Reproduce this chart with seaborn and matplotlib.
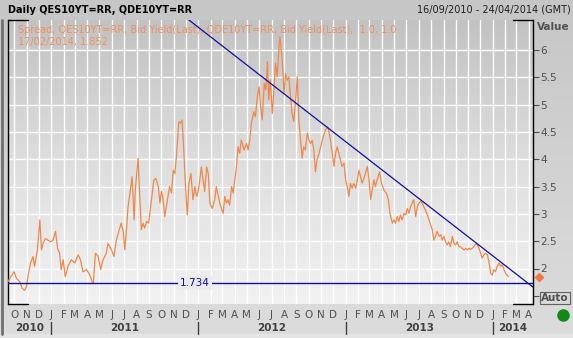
import numpy as np
import pandas as pd
import matplotlib
matplotlib.use("Agg")
import matplotlib.pyplot as plt
import matplotlib.dates as mdates
from matplotlib.colors import LinearSegmentedColormap
from matplotlib.transforms import blended_transform_factory
import seaborn as sns

# ---------------- data ----------------
start_date = "2010-09-16"
view_end = "2014-04-11"
day_offsets = [
    0, 7, 15, 21, 29, 35, 41, 46, 50, 56, 62, 66, 73, 79, 83, 87, 93, 99, 106, 112, 118, 123, 128, 132, 137, 142,
    149, 157, 166, 174, 180, 186, 195, 203, 209, 212, 217, 224, 230, 236, 244, 248, 257, 263, 269, 275, 281, 286,
    290, 294, 298, 305, 308, 313, 316, 323, 327, 331, 335, 339, 344, 349, 354, 358, 362, 367, 373, 377, 381, 385,
    389, 393, 397, 401, 406, 410, 414, 418, 424, 429, 432, 435, 439, 443, 445, 449, 454, 459, 464, 468, 472, 476,
    480, 484, 488, 493, 497, 501, 507, 513, 517, 522, 527, 534, 538, 542, 546, 550, 555, 559, 563, 567, 571, 575,
    579, 586, 592, 596, 600, 604, 610, 614, 619, 623, 627, 631, 636, 640, 644, 647,
    651, 656, 660, 664, 668, 672, 675, 679, 682, 685, 689, 693, 697, 701, 705, 709, 714, 718, 722, 726, 730, 734,
    738, 743, 747, 751, 755, 759, 763, 767, 772, 780, 788, 794, 799, 805, 809, 813, 817, 821, 825, 829, 834, 838,
    842, 846, 850, 854, 858, 863, 867, 871, 875, 879, 883, 887, 892, 896, 900, 904, 908, 912, 916, 922, 927, 933,
    939, 944, 948, 954, 958, 962, 966, 970, 974, 978, 983, 987, 991, 995, 999, 1003, 1007, 1012, 1016, 1020, 1024,
    1028, 1032, 1036, 1041, 1045, 1049, 1053, 1057, 1061, 1065, 1070, 1074, 1078, 1082, 1086, 1090, 1094, 1098,
    1103, 1107, 1111, 1115, 1119, 1123, 1127, 1132, 1136, 1140, 1144, 1148, 1152, 1156, 1161, 1165, 1169, 1173,
    1177, 1181, 1185, 1190, 1194, 1198, 1202, 1206, 1210, 1214, 1219, 1223, 1227, 1231, 1235, 1239, 1242,
]
spread = [
    1.76, 1.85, 1.94, 1.82, 1.76, 1.64, 1.60, 1.67, 1.88, 2.10, 2.22, 2.04, 2.34, 2.89, 2.34, 2.46, 2.55, 2.52, 2.49,
    2.52, 2.68, 2.37, 2.28, 1.98, 2.16, 1.85, 2.04, 2.16, 2.10, 2.25, 2.16, 1.94, 1.98, 1.88, 1.76, 1.74, 2.28, 2.22,
    1.98, 2.16, 2.28, 2.46, 2.34, 2.22, 2.52, 2.68, 2.83, 2.68, 2.34, 2.71, 3.13, 3.50, 3.68, 2.89, 3.44, 4.02, 3.32,
    2.71, 2.83, 2.74, 2.86, 2.83, 3.13, 3.38, 3.62, 3.65, 3.50, 3.20, 3.41, 3.26, 2.95, 3.13, 3.32, 3.50, 3.38, 3.80,
    3.74, 4.05, 4.69, 4.66, 4.72, 4.35, 3.74, 3.20, 2.98, 3.56, 3.74, 3.26, 3.50, 3.32, 3.41, 3.62, 3.86, 3.62, 3.41,
    3.86, 3.74, 3.20, 3.10, 3.26, 3.50, 3.32, 3.16, 3.01, 3.32, 3.20, 3.26, 3.16, 3.50, 3.38, 3.62, 3.86, 4.23, 4.11,
    4.35, 4.17, 4.29, 4.17, 4.35, 4.66, 4.87, 4.78, 5.15, 5.33, 4.96, 4.72, 5.39, 5.27, 5.79, 5.09,
    5.45, 4.84, 5.27, 5.76, 5.51, 6.00, 6.24, 5.94, 5.63, 5.21, 5.57, 5.45, 5.51, 5.15, 4.84, 4.69, 5.09, 5.51, 4.72,
    4.35, 4.02, 4.23, 4.17, 4.48, 4.35, 4.29, 4.35, 4.17, 3.77, 3.99, 4.11, 4.35, 4.54, 4.59, 4.41, 4.11, 3.87, 4.11,
    4.23, 4.11, 3.99, 3.87, 3.93, 3.62, 3.50, 3.32, 3.56, 3.47, 3.56, 3.47, 3.62, 3.80, 3.68, 3.56, 3.65, 3.74, 3.87,
    3.62, 3.26, 3.44, 3.62, 3.50, 3.62, 3.77, 3.56, 3.44, 3.38, 3.26, 3.01, 2.83, 2.89, 2.83, 2.95, 2.86, 2.98, 2.89,
    3.01, 2.98, 3.10, 3.01, 3.13, 3.20, 3.26, 2.95, 3.13, 3.20, 3.23, 3.20, 3.13, 3.07, 2.98, 2.89, 2.80, 2.71, 2.52,
    2.59, 2.68, 2.59, 2.62, 2.52, 2.59, 2.49, 2.43, 2.49, 2.40, 2.59, 2.46, 2.43, 2.49, 2.40, 2.40, 2.37, 2.34, 2.37,
    2.34, 2.37, 2.35, 2.37, 2.40, 2.45, 2.43, 2.37, 2.28, 2.19, 2.25, 2.28, 2.25, 2.10, 1.91, 1.88, 1.98, 1.94, 2.04,
    2.10, 2.04, 2.07, 1.98, 1.91, 1.88, 1.85,
]
trend_dates = ["2011-12-09", "2014-04-11"]
trend_values = [6.55, 1.66]
support_level = 1.734
support_label = "1.734"
last_value = 1.852
month_letters = ["J", "F", "M", "A", "M", "J", "J", "A", "S", "O", "N", "D"]
years = ["2010", "2011", "2012", "2013", "2014"]
y_ticks = [2.0, 2.5, 3.0, 3.5, 4.0, 4.5, 5.0, 5.5, 6.0]
y_tick_labels = ["2", "2.5", "3", "3.5", "4", "4.5", "5", "5.5", "6"]
title_left = "Daily QES10YT=RR, QDE10YT=RR"
title_right = "16/09/2010 - 24/04/2014 (GMT)"
legend_line1 = "Spread, QES10YT=RR, Bid Yield(Last), QDE10YT=RR, Bid Yield(Last),  1.0, 1.0"
legend_line2 = "17/02/2014, 1.852"

df = pd.DataFrame({
    "date": pd.Timestamp(start_date) + pd.to_timedelta(day_offsets, unit="D"),
    "spread": spread,
})

# ---------------- style ----------------
sns.set_theme(style="white")
plt.rcParams["font.family"] = ["DejaVu Sans"]

W, H = 573, 338
fig = plt.figure(figsize=(W / 100, H / 100), dpi=100)

# figure background gradient
bg = fig.add_axes([0, 0, 1, 1], zorder=-10)
bg_cmap = LinearSegmentedColormap.from_list("bg", ["#c6c6c6", "#d2d2d2", "#dcdcdc"])
bg.imshow(np.linspace(0, 1, 256).reshape(-1, 1), cmap=bg_cmap, aspect="auto", extent=[0, 1, 0, 1])
bg.set_xlim(0, 1); bg.set_ylim(0, 1)
bg.axis("off")
bg.axhspan(0, 1 - 334 / H, color="#e4e4e4")
bg.plot([1.5 / W, 1.5 / W], [1 - 334 / H, 1 - 20 / H], color="#707070", lw=2)

rect = [8 / W, 1 - 304 / H, 525 / W, 284 / H]
# plot area gradient
gax = fig.add_axes(rect, zorder=-5)
p_cmap = LinearSegmentedColormap.from_list("pl", ["#f2f2f2", "#dedede", "#c2c2c2"])
gax.imshow(np.linspace(0, 1, 256).reshape(-1, 1), cmap=p_cmap, aspect="auto",
           extent=[0, 1, 0, 1], origin="lower")
gax.axis("off")

ax = fig.add_axes(rect)
ax.set_facecolor("none")

x0 = pd.Timestamp(start_date)
x1 = pd.Timestamp(view_end)

sns.lineplot(data=df, x="date", y="spread", ax=ax, color="#f0884a", lw=0.9, zorder=3)

# trend line and support line
ax.plot(pd.to_datetime(trend_dates), trend_values, color="#1010a0", lw=0.9, zorder=4)
ax.axhline(support_level, color="#1010a0", lw=1.0, zorder=4)
ax.text(0.356, support_level, support_label, transform=blended_transform_factory(ax.transAxes, ax.transData),
        ha="center", va="center", color="#1010a0", fontsize=7.5, zorder=5,
        bbox=dict(facecolor="#ebebeb", edgecolor="none", pad=1.5))

ax.set_xlim(x0, x1)
ax.set_ylim(1.35, 6.55)
ax.set_xlabel("")
ax.set_ylabel("")

# ticks
ax.xaxis.set_major_locator(mdates.MonthLocator())
ax.xaxis.set_major_formatter(plt.FuncFormatter(
    lambda v, pos: month_letters[mdates.num2date(v).month - 1]))
ax.yaxis.tick_right()
ax.set_yticks(y_ticks)
ax.set_yticklabels(y_tick_labels)
ax.set_yticks([1.5], minor=True)
ax.tick_params(axis="x", which="major", direction="out", length=3, width=0.8, color="#606060",
               labelsize=7.5, labelcolor="#505050", pad=1.5)
ax.tick_params(axis="y", which="both", direction="out", length=4, width=0.8, color="#505050",
               labelsize=7.5, labelcolor="#505050", pad=1, left=False, right=True)
ax.grid(True, which="major", color="white", lw=1.0, zorder=1)
ax.set_axisbelow(True)

for side in ["top", "bottom"]:
    ax.spines[side].set_visible(False)
for side in ["left", "right"]:
    ax.spines[side].set_visible(True)
    ax.spines[side].set_color("black")
    ax.spines[side].set_linewidth(1.0)

# corner brackets
seg = 20 / 525
for xs in ([0, seg], [1 - seg, 1]):
    for yv in (0, 1):
        ax.plot(xs, [yv, yv], transform=ax.transAxes, color="black", lw=1.0, clip_on=False)

# years under the axis
bt = blended_transform_factory(ax.transData, ax.transAxes)
for i, yr in enumerate(years):
    ys = max(pd.Timestamp(f"{yr}-01-01"), x0)
    ye = min(pd.Timestamp(f"{int(yr) + 1}-01-01"), x1)
    mid = ys + (ye - ys) / 2
    ax.text(mid, -0.084, yr, transform=bt, ha="center", va="center", fontsize=7.5,
            fontweight="bold", color="#404040")
    if i > 0:
        ax.plot([ys, ys], [-0.062, -0.104], transform=bt, color="#404040", lw=1.0, clip_on=False)

# last value marker
ax.plot([1.0 + 6 / 525], [last_value], marker="D", ms=4.5, color="#f07840",
        transform=blended_transform_factory(ax.transAxes, ax.transData), clip_on=False, zorder=6)

# texts
ax.text(10 / 525, (304 - 30) / 284, legend_line1, transform=ax.transAxes, ha="left", va="center",
        color="#ef8f60", fontsize=7)
ax.text(10 / 525, (304 - 42) / 284, legend_line2, transform=ax.transAxes, ha="left", va="center",
        color="#ef8f60", fontsize=7)

fig.text(8 / W, 1 - 10 / H, title_left, ha="left", va="center", fontsize=7, fontweight="bold", color="black")
fig.text(571 / W, 1 - 10 / H, title_right, ha="right", va="center", fontsize=7, color="#202020")
fig.text(553 / W, 1 - 27 / H, "Value", ha="center", va="center", fontsize=7.5, fontweight="bold", color="#505050")
fig.text(555 / W, 1 - 298 / H, "Auto", ha="center", va="center", fontsize=7.5, fontweight="bold", color="#505050",
         bbox=dict(facecolor="none", edgecolor="#606060", pad=1.0, lw=0.8))
bg.plot([563 / W], [1 - 315 / H], marker="o", ms=8, color="#128a12")

fig.savefig("out.png", dpi=100)
